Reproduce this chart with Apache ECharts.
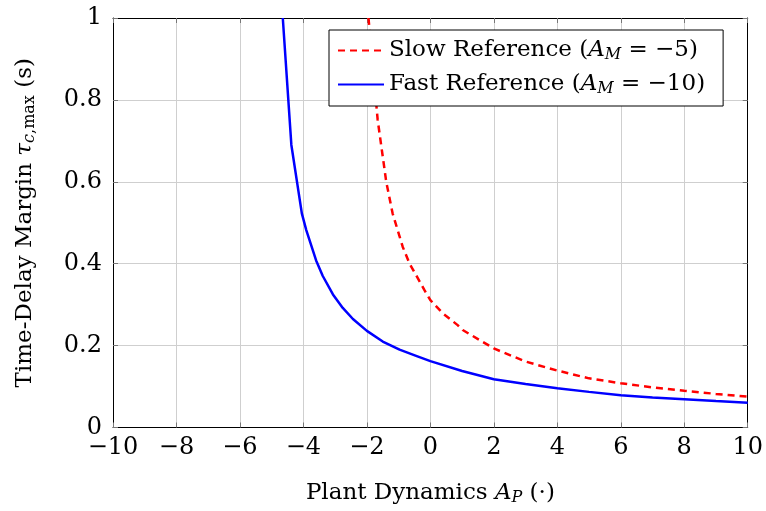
<!DOCTYPE html>
<html>
<head>
<meta charset="UTF-8">
<title>Time-Delay Margin</title>
<script src="https://cdn.jsdelivr.net/npm/echarts@6/dist/echarts.min.js"></script>
<style>
  html, body { margin: 0; padding: 0; background: #fff; }
  #main { width: 766px; height: 511px; }
</style>
</head>
<body>
<div id="main"></div>
<script>
// values
var slowX = [-1.95, -1.66, -1.39, -1.19, -1.03, -0.87, -0.66, -0.19, 0, 0.39, 0.86, 1.02, 2, 3, 4, 5, 6, 7, 8, 9, 10];
var slowY = [1.0, 0.751, 0.60, 0.523, 0.482, 0.441, 0.401, 0.336, 0.311, 0.279, 0.25, 0.238, 0.193, 0.161, 0.139, 0.120, 0.108, 0.098, 0.0899, 0.082, 0.0752];
var fastX = [-4.65, -4.38, -4.05, -3.91, -3.6, -3.39, -3.07, -2.76, -2.44, -2.0, -1.5, -0.97, -0.45, 0, 1, 2, 3, 4, 5, 6, 7, 8, 9, 10];
var fastY = [1.0, 0.69, 0.523, 0.482, 0.408, 0.37, 0.325, 0.292, 0.265, 0.236, 0.210, 0.190, 0.175, 0.162, 0.138, 0.118, 0.106, 0.0957, 0.087, 0.079, 0.0735, 0.0689, 0.0645, 0.0606];
var xTicks = { min: -10, max: 10, step: 2 };
var yTicks = { min: 0, max: 1, step: 0.2 };

function pairs(xs, ys) {
    var out = [];
    for (var i = 0; i < xs.length; i++) out.push([xs[i], ys[i]]);
    return out;
}

var serif = '"DejaVu Serif", "Liberation Serif", serif';
var rich = {
    n: { fontFamily: serif, fontSize: 23, color: '#000' },
    i: { fontFamily: serif, fontSize: 23, fontStyle: 'italic', color: '#000' },
    s: { fontFamily: serif, fontSize: 16, fontStyle: 'italic', color: '#000', verticalAlign: 'bottom', padding: [9, 0, 0, 0] },
    r: { fontFamily: serif, fontSize: 16, color: '#000', verticalAlign: 'bottom', padding: [9, 0, 0, 0] }
};

var myChart = echarts.init(document.getElementById('main'));

var baseAxisLine = { show: true, onZero: false, lineStyle: { color: '#000', width: 1 } };
var tickStyle = { show: true, inside: true, length: 5, lineStyle: { color: '#777', width: 1 } };

var option = {
    backgroundColor: '#fff',
    animation: false,
    grid: { left: 113, right: 17, top: 18, bottom: 83.5 },
    legend: {
        orient: 'vertical',
        left: 329,
        top: 30,
        padding: [9, 18, 9, 8],
        itemGap: 10,
        itemWidth: 46,
        itemHeight: 28,
        backgroundColor: '#fff',
        borderColor: '#000',
        borderWidth: 1,
        borderRadius: 0,
        itemStyle: { opacity: 0 },
        data: ['slow', 'fast'],
        formatter: function (name) {
            if (name === 'slow') return '{n|Slow Reference (}{i|A}{s|M}{n| = −5)}';
            return '{n|Fast Reference (}{i|A}{s|M}{n| = −10)}';
        },
        textStyle: { rich: rich, fontFamily: serif, fontSize: 23 }
    },
    xAxis: [{
        type: 'value',
        min: xTicks.min, max: xTicks.max, interval: xTicks.step,
        name: '{n|Plant Dynamics }{i|A}{s|P}{n| (·)}',
        nameLocation: 'middle',
        nameGap: 53,
        nameTextStyle: { rich: rich },
        axisLine: baseAxisLine,
        axisTick: tickStyle,
        splitLine: { show: true, lineStyle: { color: '#cfcfcf', width: 1 } },
        axisLabel: {
            margin: 8,
            fontFamily: serif, fontSize: 24, color: '#000',
            formatter: function (v) { return String(v).replace('-', '−'); }
        }
    }, {
        type: 'value', position: 'top',
        min: xTicks.min, max: xTicks.max, interval: xTicks.step,
        axisLine: baseAxisLine, axisTick: tickStyle,
        axisLabel: { show: false }, splitLine: { show: false }
    }],
    yAxis: [{
        type: 'value',
        min: yTicks.min, max: yTicks.max, interval: yTicks.step,
        name: '{n|Time-Delay Margin }{i|τ}{s|c}{r|,max}{n| (s)}',
        nameLocation: 'middle',
        nameGap: 75,
        nameRotate: 90,
        nameTextStyle: { rich: rich },
        axisLine: baseAxisLine,
        axisTick: tickStyle,
        splitLine: { show: true, lineStyle: { color: '#cfcfcf', width: 1 } },
        axisLabel: {
            margin: 11,
            fontFamily: serif, fontSize: 24, color: '#000',
            formatter: function (v) { return String(Math.round(v * 10) / 10); }
        }
    }, {
        type: 'value', position: 'right',
        min: yTicks.min, max: yTicks.max, interval: yTicks.step,
        axisLine: baseAxisLine, axisTick: tickStyle,
        axisLabel: { show: false }, splitLine: { show: false }
    }],
    series: [{
        name: 'slow',
        type: 'line',
        symbol: 'none',
        clip: true,
        data: pairs(slowX, slowY),
        lineStyle: { color: '#ff0000', width: 2.5, type: [7, 5] },
        itemStyle: { color: '#ff0000' }
    }, {
        name: 'fast',
        type: 'line',
        symbol: 'none',
        clip: true,
        data: pairs(fastX, fastY),
        lineStyle: { color: '#0000ff', width: 2.5 },
        itemStyle: { color: '#0000ff' }
    }]
};

myChart.setOption(option);
</script>
</body>
</html>
